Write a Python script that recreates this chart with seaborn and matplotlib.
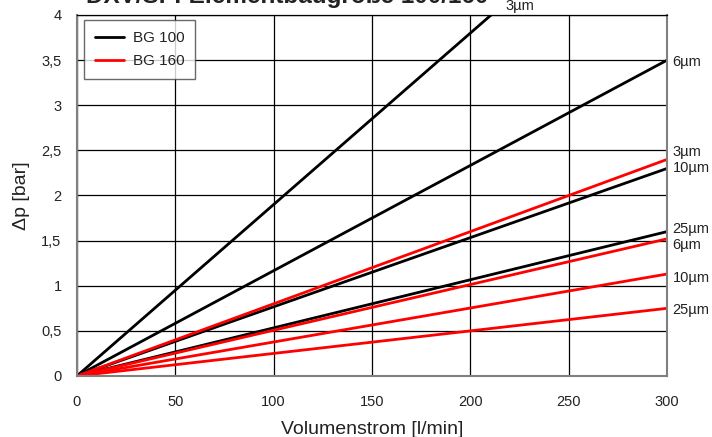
import matplotlib
matplotlib.use("Agg")
import matplotlib.pyplot as plt
import pandas as pd
import seaborn as sns

# flow range and pressure drop at 300 l/min (lines are straight from origin)
flow = [0, 300]
grades = ["3µm", "6µm", "10µm", "25µm"]
dp_bg100 = [5.7, 3.5, 2.3, 1.6]
dp_bg160 = [2.4, 1.52, 1.13, 0.75]
groups = ["BG 100", "BG 160"]

rows = []
for grp, ends in zip(groups, [dp_bg100, dp_bg160]):
    for g, end in zip(grades, ends):
        for q in flow:
            rows.append({"flow": q, "dp": end * q / flow[-1], "group": grp, "grade": g})
df = pd.DataFrame(rows)

sns.set_theme(style="white")
plt.rcParams["font.family"] = ["Liberation Sans", "DejaVu Sans"]

fig = plt.figure(figsize=(7.12, 4.37), dpi=100)
ax = fig.add_axes([0.108, 0.1396, 0.829, 0.8261])

sns.lineplot(data=df, x="flow", y="dp", hue="group", units="grade", estimator=None,
             palette={"BG 100": "black", "BG 160": "#ff0000"}, linewidth=2, ax=ax)

ax.set_xlim(0, 300)
ax.set_ylim(0, 4)
ax.set_xticks(range(0, 301, 50))
ax.set_yticks([0, 0.5, 1, 1.5, 2, 2.5, 3, 3.5, 4])
ax.set_yticklabels(["0", "0,5", "1", "1,5", "2", "2,5", "3", "3,5", "4"])
ax.grid(True, color="black", linewidth=0.9)
ax.set_axisbelow(True)
ax.tick_params(axis="both", direction="out", length=5, width=1, color="black",
               labelsize=10.5, labelcolor="#222222", pad=6)
ax.tick_params(axis="x", pad=9)
for side in ["left", "bottom", "right"]:
    ax.spines[side].set_color("#808080")
    ax.spines[side].set_linewidth(1.5)
ax.spines["top"].set_color("black")
ax.spines["top"].set_linewidth(0.9)

ax.set_xlabel("Volumenstrom [l/min]", fontsize=14, color="#222222", labelpad=8)
ax.set_ylabel("Δp [bar]", fontsize=14, color="#222222", labelpad=8)

# end labels, nudged (bar) so they do not overlap
nudge_bg100 = [None, -0.02, 0.01, 0.03]
nudge_bg160 = [0.08, -0.07, -0.04, -0.02]
for ends, nudges in [(dp_bg100, nudge_bg100), (dp_bg160, nudge_bg160)]:
    for g, end, n in zip(grades, ends, nudges):
        if n is None:
            continue
        ax.annotate(g, xy=(flow[-1], end + n), xytext=(4, 0), textcoords="offset points",
                    va="center", ha="left", fontsize=10.5, color="#222222", annotation_clip=False)
# BG 100 3µm leaves the chart at the top
ax.text(218, 4.02, grades[0], ha="left", va="bottom", fontsize=10.5, color="#222222", clip_on=False)

leg = ax.legend(loc="upper left", bbox_to_anchor=(0.012, 0.985), borderaxespad=0,
                fontsize=11, frameon=True, fancybox=False, handlelength=1.9,
                handletextpad=0.6, borderpad=0.7, labelspacing=0.6)
leg.get_frame().set_edgecolor("#444444")
leg.get_frame().set_linewidth(1.0)
for t in leg.get_texts():
    t.set_color("#222222")

fig.text(0.403, 1 - 3 / 437, "DXV/SF: Elementbaugröße 100/160", ha="center", va="baseline",
         fontsize=17.5, fontweight="bold", color="#222222")

fig.savefig("out.png", dpi=100)
